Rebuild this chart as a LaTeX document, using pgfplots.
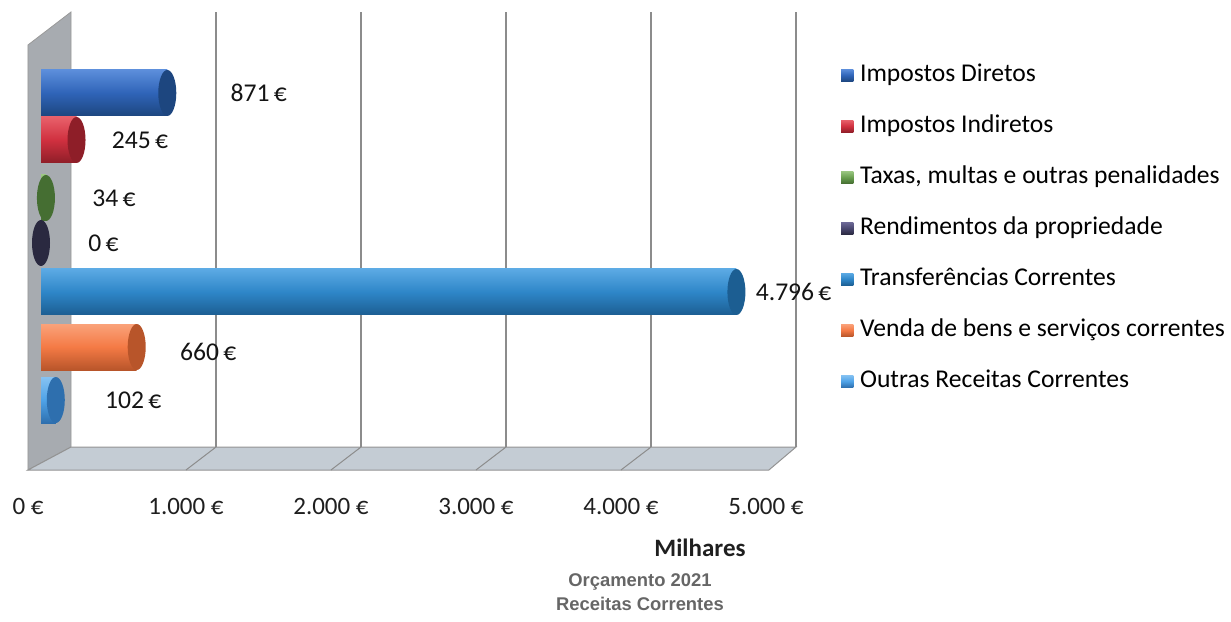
\documentclass[border=0pt]{standalone}
\usepackage{fontspec}
\setmainfont{Carlito}
\newfontfamily\titlefont{Liberation Sans}
\usepackage{pgfplots}
\pgfplotsset{compat=1.18}

\definecolor{cA}{HTML}{2F64B8}\definecolor{cAl}{HTML}{5C8EDB}\definecolor{cAd}{HTML}{1D467F}
\definecolor{cB}{HTML}{D0303F}\definecolor{cBl}{HTML}{E8606A}\definecolor{cBd}{HTML}{8E1E28}
\definecolor{cC}{HTML}{6AA050}\definecolor{cCl}{HTML}{9BC782}\definecolor{cCd}{HTML}{456E32}
\definecolor{cD}{HTML}{4A4870}\definecolor{cDl}{HTML}{6E6A98}\definecolor{cDd}{HTML}{2A2940}
\definecolor{cE}{HTML}{2E86C8}\definecolor{cEl}{HTML}{5CAAE4}\definecolor{cEd}{HTML}{1C5E92}
\definecolor{cF}{HTML}{F47A45}\definecolor{cFl}{HTML}{FAA27A}\definecolor{cFd}{HTML}{B8552A}
\definecolor{cG}{HTML}{4FA3E8}\definecolor{cGl}{HTML}{86C2F2}\definecolor{cGd}{HTML}{2E6FAE}
\definecolor{lA}{HTML}{2E5FA8}\definecolor{lB}{HTML}{C8303C}\definecolor{lC}{HTML}{7DAF6A}
\definecolor{lD}{HTML}{6A5E96}\definecolor{lE}{HTML}{2E8ACB}\definecolor{lF}{HTML}{F79461}
\definecolor{lG}{HTML}{5AA8E8}
\definecolor{wallc}{HTML}{A7ABB0}
\definecolor{floorc}{HTML}{C4CCD4}
\definecolor{gridc}{HTML}{8C8C8C}

\pgfdeclareplotmark{cap}{%
  \pgfpathellipse{\pgfpointorigin}{\pgfqpoint{4.5pt}{0pt}}{\pgfqpoint{0pt}{11.5pt}}%
  \pgfusepathqfill}

\pgfplotsset{
  legsq/.style={legend image code/.code={\fill[#1] (0pt,-3.1pt) rectangle (6.2pt,3.1pt); \path (6.2pt,0) -- (9.5pt,0);}},
}

\begin{document}
\begin{tikzpicture}
\path (0,0) rectangle (615.5pt,-310.5pt);
\begin{axis}[
  at={(20.5pt,-235pt)}, anchor=south west,
  scale only axis, width=362.5pt, height=229pt,
  xmin=0, xmax=5000, ymin=-470, ymax=-12,
  clip=false, set layers,
  axis line style={draw=none},
  major tick length=0pt,
  ytick=\empty,
  xtick={0,1000,2000,3000,4000,5000},
  xticklabels={\hspace*{-13pt}0 €,1.000 €,2.000 €,3.000 €,4.000 €,5.000 €},
  xticklabel style={anchor=base, yshift=-22pt, font=\fontsize{12.5}{14}\selectfont, text=black!88},
  bar width=46,
  point meta=x,
  nodes near coords={\pgfmathprintnumber[1000 sep={.}, assume math mode=true]{\pgfplotspointmeta}\,€},
  every node near coord/.append style={anchor=west, inner sep=0pt, font=\fontsize{12.8}{15}\selectfont, text=black!92},
  legend style={at={(1.103,0.889)}, anchor=north west, draw=none, fill=none, inner sep=0pt,
     row sep=13.5pt, column sep=0pt, font=\fontsize{12.8}{15}\selectfont,
     nodes={inner sep=0pt, text height=9pt, text depth=3pt}},
  legend cell align=left,
]
\begin{pgfonlayer}{axis background}
  \fill[wallc] (axis cs:-90,-45) -- (axis cs:207,-12) -- (axis cs:207,-447) -- (axis cs:-90,-470) -- cycle;
  \draw[gray!80, line width=0.4pt] (axis cs:-90,-45) -- (axis cs:207,-12) -- (axis cs:207,-447) -- (axis cs:-90,-470) -- cycle;
  \fill[floorc] (axis cs:-90,-470) -- (axis cs:5020,-470) -- (axis cs:5207,-447) -- (axis cs:207,-447) -- cycle;
  \draw[gray!85, line width=0.5pt] (axis cs:-90,-470) -- (axis cs:5020,-470) -- (axis cs:5207,-447) -- (axis cs:207,-447) -- cycle;
  \draw[gridc, line width=0.5pt] (axis cs:1000,-470) -- (axis cs:1207,-447);
  \draw[gridc, line width=0.5pt] (axis cs:2000,-470) -- (axis cs:2207,-447);
  \draw[gridc, line width=0.5pt] (axis cs:3000,-470) -- (axis cs:3207,-447);
  \draw[gridc, line width=0.5pt] (axis cs:4000,-470) -- (axis cs:4207,-447);
  \draw[gridc, line width=0.7pt] (axis cs:1207,-447) -- (axis cs:1207,-12);
  \draw[gridc, line width=0.7pt] (axis cs:2207,-447) -- (axis cs:2207,-12);
  \draw[gridc, line width=0.7pt] (axis cs:3207,-447) -- (axis cs:3207,-12);
  \draw[gridc, line width=0.7pt] (axis cs:4207,-447) -- (axis cs:4207,-12);
  \draw[gridc, line width=0.7pt] (axis cs:5207,-447) -- (axis cs:5207,-12);
\end{pgfonlayer}

\addplot[xbar, bar shift=0pt, draw=none, top color=cAl, bottom color=cAd, middle color=cA,
  mark=cap, mark options={fill=cAd}, legsq=lA,
  every node near coord/.append style={xshift=31.5pt}] coordinates {(871,-93)};
\addlegendentry{Impostos Diretos}
\addplot[xbar, bar shift=0pt, draw=none, top color=cBl, bottom color=cBd, middle color=cB,
  mark=cap, mark options={fill=cBd}, legsq=lB,
  every node near coord/.append style={xshift=17.5pt}] coordinates {(245,-140)};
\addlegendentry{Impostos Indiretos}
\addplot[xbar, bar shift=0pt, draw=none, top color=cCl, bottom color=cCd, middle color=cC,
  mark=cap, mark options={fill=cCd}, legsq=lC,
  every node near coord/.append style={xshift=23pt}] coordinates {(34,-198)};
\addlegendentry{Taxas, multas e outras penalidades}
\addplot[xbar, bar shift=0pt, draw=none, top color=cDl, bottom color=cDd, middle color=cD,
  mark=cap, mark options={fill=cDd}, legsq=lD,
  every node near coord/.append style={xshift=23.5pt}] coordinates {(0,-243)};
\addlegendentry{Rendimentos da propriedade}
\addplot[xbar, bar shift=0pt, draw=none, top color=cEl, bottom color=cEd, middle color=cE,
  mark=cap, mark options={fill=cEd}, legsq=lE,
  every node near coord/.append style={xshift=9.5pt}] coordinates {(4796,-292)};
\addlegendentry{Transferências Correntes}
\addplot[xbar, bar shift=0pt, draw=none, top color=cFl, bottom color=cFd, middle color=cF,
  mark=cap, mark options={fill=cFd}, legsq=lF,
  every node near coord/.append style={xshift=21.5pt, yshift=-2.5pt}] coordinates {(660,-347)};
\addlegendentry{Venda de bens e serviços correntes}
\addplot[xbar, bar shift=0pt, draw=none, top color=cGl, bottom color=cGd, middle color=cG,
  mark=cap, mark options={fill=cGd}, legsq=lG,
  every node near coord/.append style={xshift=24.5pt}] coordinates {(102,-400)};
\addlegendentry{Outras Receitas Correntes}
\end{axis}
\node[font=\fontsize{12.5}{14}\selectfont\bfseries, text=black!88] at (350pt,-274pt) {Milhares};
\node[font=\titlefont\fontsize{9.2}{11}\selectfont\bfseries, text=black!60] at (320pt,-291pt) {Orçamento 2021};
\node[font=\titlefont\fontsize{9.2}{11}\selectfont\bfseries, text=black!60] at (320pt,-302pt) {Receitas Correntes};
\end{tikzpicture}
\end{document}
